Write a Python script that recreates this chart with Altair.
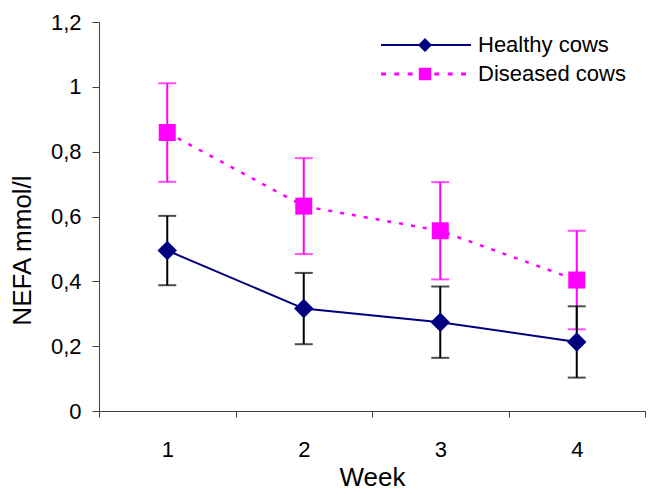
import altair as alt
import pandas as pd

weeks = ["1", "2", "3", "4"]
series_names = ["Healthy cows", "Diseased cows"]
healthy = [0.495, 0.316, 0.274, 0.213]
healthy_err = [0.107, 0.110, 0.110, 0.110]
diseased = [0.859, 0.632, 0.556, 0.404]
diseased_err = [0.152, 0.148, 0.150, 0.152]
y_ticks = [0, 0.2, 0.4, 0.6, 0.8, 1.0, 1.2]

rows = []
for name, vals, errs in [(series_names[0], healthy, healthy_err),
                         (series_names[1], diseased, diseased_err)]:
    for w, v, e in zip(weeks, vals, errs):
        rows.append({"week": w, "series": name, "value": v,
                     "lo": v - e, "hi": v + e})
df = pd.DataFrame(rows)

FONT = "Liberation Sans"
NAVY = "#000080"
MAG = "#FF00FF"

x_enc = alt.X("week:N", sort=weeks, title="Week",
              scale=alt.Scale(paddingInner=0, paddingOuter=0),
              axis=alt.Axis(labelAngle=0, tickBand="extent", tickSize=6,
                            labelPadding=22, titleY=74, titleBaseline="alphabetic",
                            titleX=273))
y_scale = alt.Scale(domain=[0, 1.2], nice=False)
y_enc = alt.Y("value:Q", scale=y_scale, title="NEFA mmol/l",
              axis=alt.Axis(values=y_ticks, grid=False, tickSize=7,
                            labelPadding=11,
                            labelExpr="replace(format(datum.value, '~g'), '.', ',')",
                            titleX=-77, titleY=228, titleAngle=-90,
                            titleAlign="center", titleBaseline="middle"))

base = alt.Chart(df)
healthy_df = base.transform_filter(alt.datum.series == series_names[0])
diseased_df = base.transform_filter(alt.datum.series == series_names[1])


def errorbars(src, col):
    r = src.mark_rule(strokeWidth=2, color=col).encode(
        x=x_enc, y=alt.Y("lo:Q", scale=y_scale), y2="hi:Q")
    lo = src.mark_tick(size=18, thickness=2, color=col).encode(
        x=x_enc, y=alt.Y("lo:Q", scale=y_scale))
    hi = src.mark_tick(size=18, thickness=2, color=col).encode(
        x=x_enc, y=alt.Y("hi:Q", scale=y_scale))
    return [r, lo, hi]


line_h = healthy_df.mark_line(strokeWidth=2, color=NAVY).encode(x=x_enc, y=y_enc)
line_d = diseased_df.mark_line(strokeWidth=2.5, color=MAG, strokeDash=[4, 8]).encode(x=x_enc, y=y_enc)

pts_h = healthy_df.mark_point(shape="diamond", filled=True, size=380, color=NAVY,
                              opacity=1).encode(x=x_enc, y=y_enc)
pts_d = diseased_df.mark_point(shape="square", filled=True, size=289, color=MAG,
                               opacity=1).encode(x=x_enc, y=y_enc)

# legend glyphs (unit = 10 px): a line with the series marker in the middle
healthy_glyph = "M-4.4,-0.1H4.6V0.1H-4.4Z M0,-0.7L0.7,0L0,0.7L-0.7,0Z"
dash_starts = [-4.4, -3.07, -1.73, 0.93, 2.27, 3.6]
diseased_glyph = " ".join(
    f"M{s:.2f},-0.14H{s + 0.5:.2f}V0.14H{s:.2f}Z" for s in dash_starts
) + " M-0.62,-0.62H0.62V0.62H-0.62Z"
legend_paths = [healthy_glyph, diseased_glyph]

leg = alt.Legend(title=None, orient="none", legendX=315, legendY=12, padding=0,
                 labelFont=FONT, labelFontSize=22, labelColor="black",
                 symbolSize=400, symbolStrokeWidth=0, labelOffset=42,
                 rowPadding=7, symbolOpacity=1)
legend_layer = base.mark_point(filled=True, size=0, opacity=1).encode(
    x=x_enc, y=y_enc,
    fill=alt.Fill("series:N", scale=alt.Scale(domain=series_names, range=[NAVY, MAG]), legend=leg),
    shape=alt.Shape("series:N", scale=alt.Scale(domain=series_names, range=legend_paths), legend=leg),
)

layers = errorbars(diseased_df, MAG) + errorbars(healthy_df, "black") + [
    line_d, line_h, pts_d, pts_h, legend_layer]

chart = alt.layer(*layers).properties(
    width=546, height=389,
    autosize=alt.AutoSizeParams(type="none"),
    padding={"left": 91, "top": 14, "right": 1, "bottom": 80},
).configure_view(stroke=None).configure_axis(
    labelFont=FONT, titleFont=FONT, labelFontSize=22, titleFontSize=26,
    labelColor="black", titleColor="black", titleFontWeight="normal",
    domainColor="#404040", tickColor="#404040", domainWidth=1, tickWidth=1,
).configure_legend(labelFont=FONT)

chart.save("out.html", embed_options={"renderer": "svg", "actions": False})
